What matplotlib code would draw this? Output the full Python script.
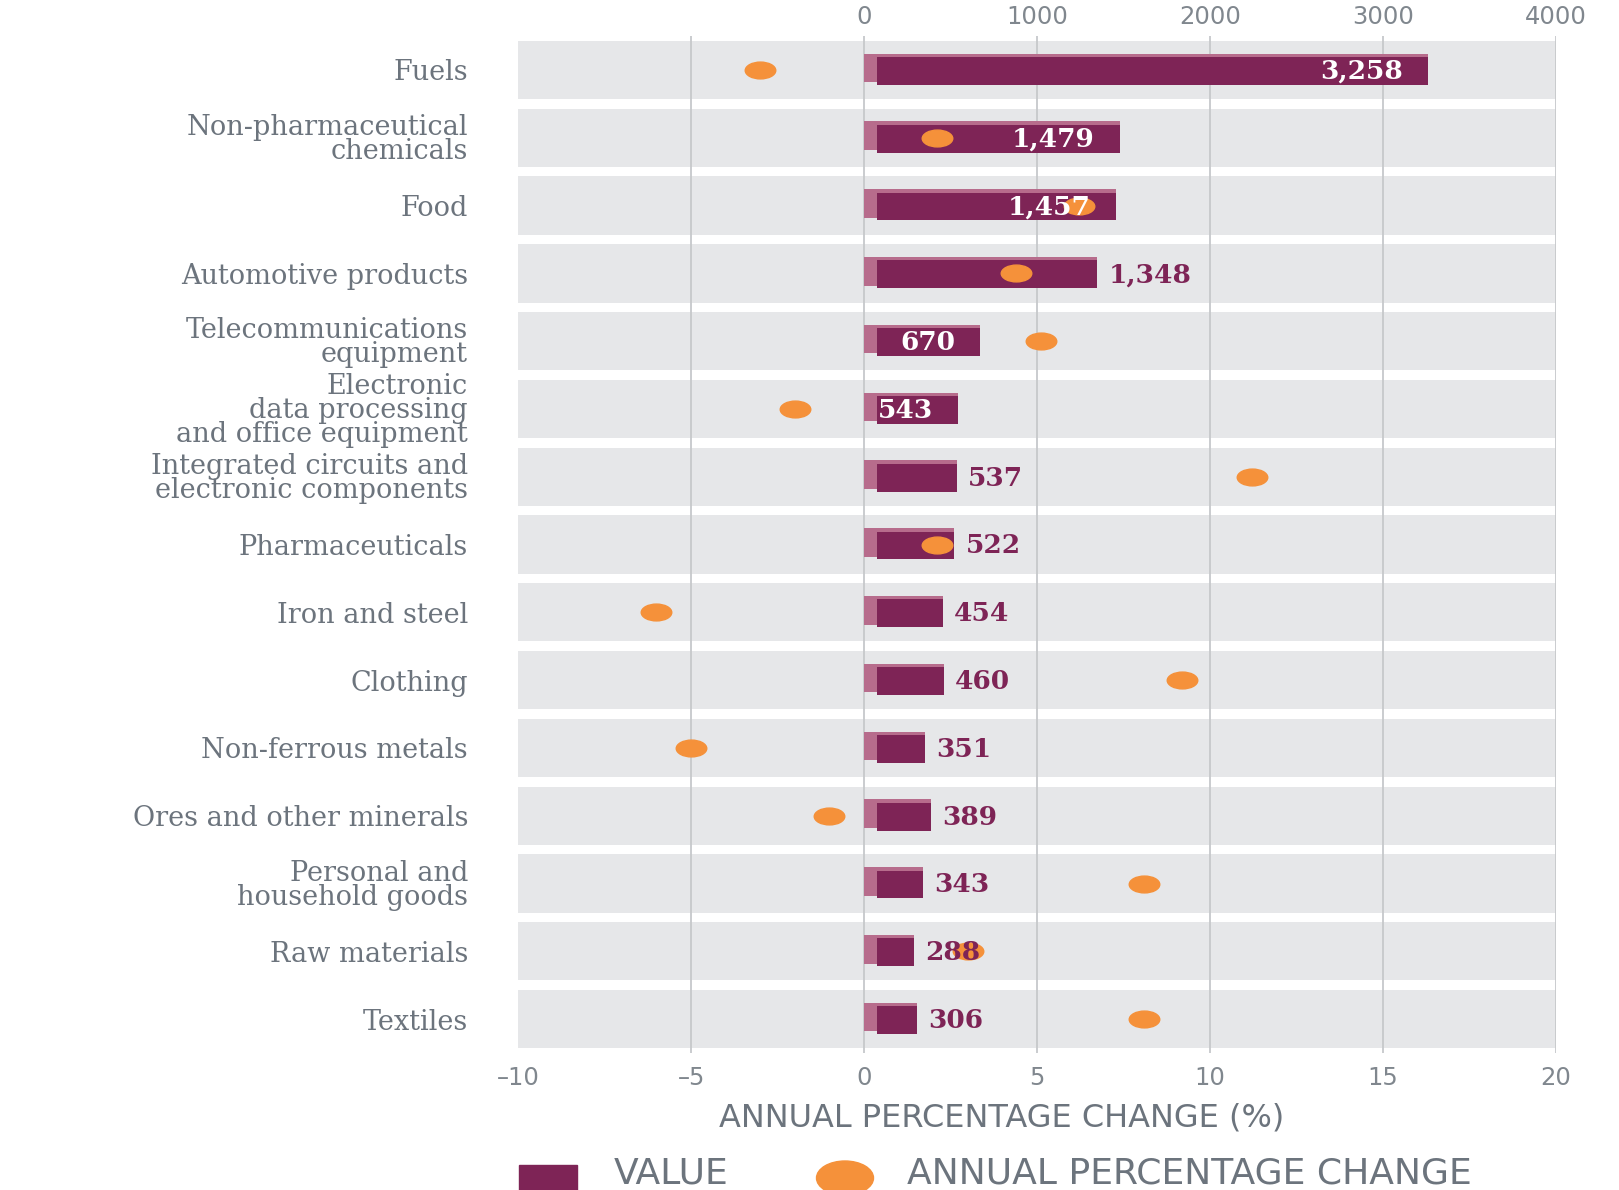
import matplotlib.pyplot as plt
from matplotlib.path import Path
from matplotlib.patches import Rectangle, Ellipse
import matplotlib.transforms as mtrans

# Data
categories = [
    "Fuels",
    "Non-pharmaceutical\nchemicals",
    "Food",
    "Automotive products",
    "Telecommunications\nequipment",
    "Electronic\ndata processing\nand office equipment",
    "Integrated circuits and\nelectronic components",
    "Pharmaceuticals",
    "Iron and steel",
    "Clothing",
    "Non-ferrous metals",
    "Ores and other minerals",
    "Personal and\nhousehold goods",
    "Raw materials",
    "Textiles",
]
values = [3258, 1479, 1457, 1348, 670, 543, 537, 522, 454, 460, 351, 389, 343, 288, 306]
value_labels = ["3,258", "1,479", "1,457", "1,348", "670", "543", "537", "522",
                "454", "460", "351", "389", "343", "288", "306"]
pct_change = [-3.0, 2.1, 6.2, 4.4, 5.1, -2.0, 11.2, 2.1, -6.0, 9.2, -5.0, -1.0, 8.1, 3.0, 8.1]
label_inside = [True, True, True, False, True, True, False, False,
                False, False, False, False, False, False, False]

value_ticks = [0, 1000, 2000, 3000, 4000]
pct_ticks = [-10, -5, 0, 5, 10, 15, 20]

# Colours
purple = "#7e2456"
purple_light = "#b76c8c"
orange = "#f5913a"
band_grey = "#e6e7e9"
grid_grey = "#c6c8cb"
text_grey = "#6c747d"
tick_grey = "#80878e"

fig = plt.figure(figsize=(16.19, 11.9), dpi=100)
ax = fig.add_axes([0.320, 0.1151, 0.6411, 0.8546])  # value axis (top)
ax.set_xlim(-2000, 4000)
ax.set_ylim(len(categories) - 0.5, -0.5)

ypos = list(range(len(categories)))

# grey row bands
for y in ypos:
    ax.axhspan(y - 0.43, y + 0.43, color=band_grey, zorder=0, lw=0)

# vertical grid lines (same positions as the percentage ticks)
ax.set_xticks([-1000] + value_ticks, labels=[""] + [str(v) for v in value_ticks])
ax.grid(axis="x", color=grid_grey, lw=1.3, zorder=1)
ax.set_axisbelow(True)

# bars: lighter side/top face behind, dark front face on top
side = 75
ax.barh([y - 0.03 for y in ypos], values, height=0.42, left=0,
        color=purple_light, zorder=2)
ax.barh([y + 0.015 for y in ypos], [v - side for v in values], height=0.41, left=side,
        color=purple, zorder=3)

ax.set_yticks(ypos, labels=categories)
for s in ax.spines.values():
    s.set_visible(False)

# percentage axis (bottom)
ax2 = ax.twiny()
ax2.set_xlim(-10, 20)
ax2.patch.set_visible(False)
for s in ax2.spines.values():
    s.set_visible(False)
ax2.xaxis.set_ticks_position("bottom")
ax2.set_xticks(pct_ticks, labels=[str(t).replace("-", "\u2013") for t in pct_ticks])
ax2.tick_params(axis="x", length=0, pad=9, labelsize=17.5, labelcolor=tick_grey)

# twiny moves the first axis' ticks to the bottom, put them back on top
ax.xaxis.set_ticks_position("top")
ax.tick_params(axis="x", length=0, pad=5, labelsize=17.5, labelcolor=tick_grey,
               labeltop=True, labelbottom=False)
ax.tick_params(axis="y", length=0, pad=36, labelsize=19.5, labelcolor=text_grey)
for lab in ax.get_yticklabels():
    lab.set_family("DejaVu Serif")
    lab.set_linespacing(0.86)

# orange dots, wide ellipses
ell = mtrans.Affine2D().scale(1.0, 0.55).transform_path(Path.unit_circle())
ax2.plot(pct_change, ypos, ls="none", marker=ell, ms=22, color=orange, zorder=4)

# value labels (drawn above the dots, placed in value units)
for y, v, lab, inside in zip(ypos, values, value_labels, label_inside):
    if inside:
        ax2.annotate(lab, (v, y + 0.02), xycoords=ax.transData, xytext=(-18, 0),
                     textcoords="offset points", ha="right", va="center",
                     color="white", fontsize=19, fontweight="bold",
                     family="DejaVu Serif", zorder=5)
    else:
        ax2.annotate(lab, (v, y + 0.02), xycoords=ax.transData, xytext=(8, 0),
                     textcoords="offset points", ha="left", va="center",
                     color=purple, fontsize=19, fontweight="bold",
                     family="DejaVu Serif", zorder=5)

fig.text(1002 / 1619, 1 - 1118 / 1190, "ANNUAL PERCENTAGE CHANGE (%)",
         ha="center", va="center", fontsize=23, color=text_grey)

# legend along the bottom edge
fig.add_artist(Rectangle((519 / 1619, 0), 58 / 1619, 25 / 1190,
                         transform=fig.transFigure, color=purple))
fig.add_artist(Ellipse((845 / 1619, 1 - 1178 / 1190), 57 / 1619, 34 / 1190,
                       transform=fig.transFigure, color=orange))
fig.text(614 / 1619, 0.0, "VALUE", ha="left", va="bottom",
         fontsize=26, color=text_grey)
fig.text(907 / 1619, 0.0, "ANNUAL PERCENTAGE CHANGE", ha="left", va="bottom",
         fontsize=26, color=text_grey)

fig.savefig("out.png", dpi=100)
